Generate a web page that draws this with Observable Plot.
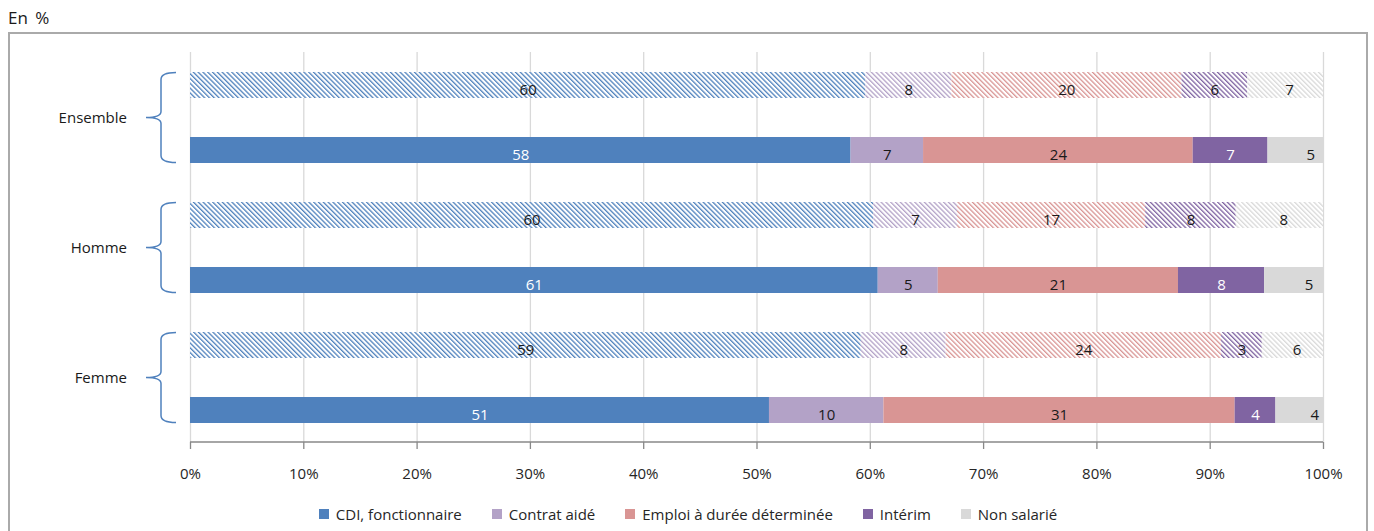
<!DOCTYPE html>
<html>
<head>
<meta charset="utf-8">
<script src="https://cdn.jsdelivr.net/npm/d3@7"></script>
<script src="https://cdn.jsdelivr.net/npm/@observablehq/plot@0.6"></script>
<style>
  body { margin: 0; background: #fff; font-family: "Open Sans", sans-serif; color: #1a1a1a; }
  #title { position: absolute; left: 8px; top: 5px; font-size: 17px; line-height: 26px; word-spacing: 3px; }
  #frame { position: absolute; left: 8px; top: 32px; width: 1356px; height: 520px; border: 2px solid #aaa; border-bottom: none; }
  #legend { display: flex; justify-content: center; gap: 30px; margin-top: 10px; font-size: 15px; line-height: 20px; color: #262626; }
  #legend .item { display: flex; align-items: center; gap: 7px; }
  #legend .sw { width: 10px; height: 10px; display: inline-block; }
</style>
</head>
<body>
<div id="title">En %</div>
<div id="frame"><div id="chart"></div><div id="legend"></div></div>
<script>
// ---- data ----
const groups = ["Ensemble", "Homme", "Femme"];
const series = ["CDI, fonctionnaire", "Contrat aidé", "Emploi à durée déterminée", "Intérim", "Non salarié"];
const colors = ["#4F81BD", "#B3A2C7", "#D99594", "#8064A2", "#D9D9D9"];
const xTicks = [0, 10, 20, 30, 40, 50, 60, 70, 80, 90, 100];

// segment widths (hatched = upper bar, solid = lower bar)
const ensembleHatched = [59.6, 7.6, 20.3, 5.8, 6.7];
const ensembleSolid   = [58.3, 6.4, 23.8, 6.6, 4.9];
const hommeHatched    = [60.3, 7.4, 16.6, 8.0, 7.7];
const hommeSolid      = [60.7, 5.3, 21.2, 7.6, 5.2];
const femmeHatched    = [59.2, 7.5, 24.3, 3.6, 5.4];
const femmeSolid      = [51.1, 10.1, 31.0, 3.6, 4.2];

// printed labels
const ensembleHatchedLabels = [60, 8, 20, 6, 7];
const ensembleSolidLabels   = [58, 7, 24, 7, 5];
const hommeHatchedLabels    = [60, 7, 17, 8, 8];
const hommeSolidLabels      = [61, 5, 21, 8, 5];
const femmeHatchedLabels    = [59, 8, 24, 3, 6];
const femmeSolidLabels      = [51, 10, 31, 4, 4];

const hatchedByGroup = [ensembleHatched, hommeHatched, femmeHatched];
const solidByGroup = [ensembleSolid, hommeSolid, femmeSolid];
const hatchedLabelsByGroup = [ensembleHatchedLabels, hommeHatchedLabels, femmeHatchedLabels];
const solidLabelsByGroup = [ensembleSolidLabels, hommeSolidLabels, femmeSolidLabels];

const rows = [];
const rowKeys = [];
groups.forEach((g, gi) => {
  [["h", hatchedByGroup[gi], hatchedLabelsByGroup[gi]], ["s", solidByGroup[gi], solidLabelsByGroup[gi]]].forEach(([kind, vals, labs]) => {
    const key = g + "|" + kind;
    rowKeys.push(key);
    series.forEach((s, i) => rows.push({group: g, kind, key, series: s, si: i, value: vals[i], label: String(labs[i])}));
  });
});

const W = 1356, H = 460, ML = 180, MR = 43, MT = 18, MB = 52;
const labelFill = d => (d.kind === "s" && (d.si === 0 || d.si === 3)) ? "#ffffff" : "#1a1a1a";

const chart = Plot.plot({
  width: W, height: H,
  marginLeft: ML, marginRight: MR, marginTop: MT, marginBottom: MB,
  style: {fontFamily: "Open Sans, sans-serif", fontSize: "15px", background: "transparent", color: "#1a1a1a"},
  x: {domain: [0, 100], label: null},
  y: {domain: rowKeys, paddingInner: 0.6, paddingOuter: 0.3, axis: null},
  color: {type: "identity"},
  marks: [
    Plot.gridX({ticks: xTicks, stroke: "#d9d9d9", strokeOpacity: 1, strokeWidth: 1.3}),
    Plot.barX(rows, Plot.stackX({x: "value", y: "key", fill: d => d.kind === "h" ? `url(#hatch${d.si})` : colors[d.si]})),
    Plot.text(rows, Plot.stackX({x: "value", y: "key", text: d => d.si === 4 ? null : d.label, fill: labelFill, dy: 5, fontSize: 15})),
    Plot.text(rows, Plot.stackX({x: "value", y: "key", text: d => (d.si === 4 && d.kind === "h") ? d.label : null, fill: labelFill, dx: 4, dy: 5, fontSize: 15})),
    Plot.text(rows, Plot.stackX({x: "value", y: "key", text: d => (d.si === 4 && d.kind === "s") ? d.label : null, fill: labelFill, dx: 15, dy: 5, fontSize: 15})),
    Plot.axisX({ticks: xTicks, tickFormat: d => d + "%", label: null, tickSize: 7, tickPadding: 19, stroke: "#888", strokeWidth: 1.3, fill: "#262626", fontSize: 15})
  ]
});

// patterns, axis line, braces, group labels
const svg = d3.select(chart);
const defs = svg.insert("defs", ":first-child");
colors.forEach((c, i) => {
  const p = defs.append("pattern").attr("id", "hatch" + i)
    .attr("patternUnits", "userSpaceOnUse").attr("width", 3.4).attr("height", 3.4)
    .attr("patternTransform", "rotate(-45)");
  p.append("rect").attr("width", 3.4).attr("height", 3.4).attr("fill", "#fff");
  p.append("rect").attr("width", 1.3).attr("height", 3.4).attr("fill", c);
});

const xs = chart.scale("x"), ys = chart.scale("y");
svg.append("line")
  .attr("x1", xs.apply(0)).attr("x2", xs.apply(100))
  .attr("y1", H - MB).attr("y2", H - MB)
  .attr("stroke", "#888").attr("stroke-width", 1.5);

const x0 = xs.apply(0);
groups.forEach(g => {
  const top = ys.apply(g + "|h");
  const bottom = ys.apply(g + "|s") + ys.bandwidth;
  const c = (top + bottom) / 2, h = 45;
  const endX = x0 - 14, vX = x0 - 29, tipX = x0 - 44;
  svg.append("path")
    .attr("d", `M${endX},${c - h} Q${vX},${c - h} ${vX},${c - h + 7} L${vX},${c - 6} Q${vX},${c} ${tipX},${c} Q${vX},${c} ${vX},${c + 6} L${vX},${c + h - 7} Q${vX},${c + h} ${endX},${c + h}`)
    .attr("fill", "none").attr("stroke", "#4F81BD").attr("stroke-width", 1.5);
  svg.append("text")
    .attr("x", x0 - 63).attr("y", c).attr("dy", "0.35em")
    .attr("text-anchor", "end").attr("fill", "#1a1a1a")
    .attr("font-family", "Open Sans, sans-serif").attr("font-size", 15)
    .text(g);
});

document.getElementById("chart").appendChild(chart);

const legend = document.getElementById("legend");
series.forEach((s, i) => {
  const it = document.createElement("div");
  it.className = "item";
  it.innerHTML = `<span class="sw" style="background:${colors[i]}"></span><span>${s}</span>`;
  legend.appendChild(it);
});
</script>
</body>
</html>
